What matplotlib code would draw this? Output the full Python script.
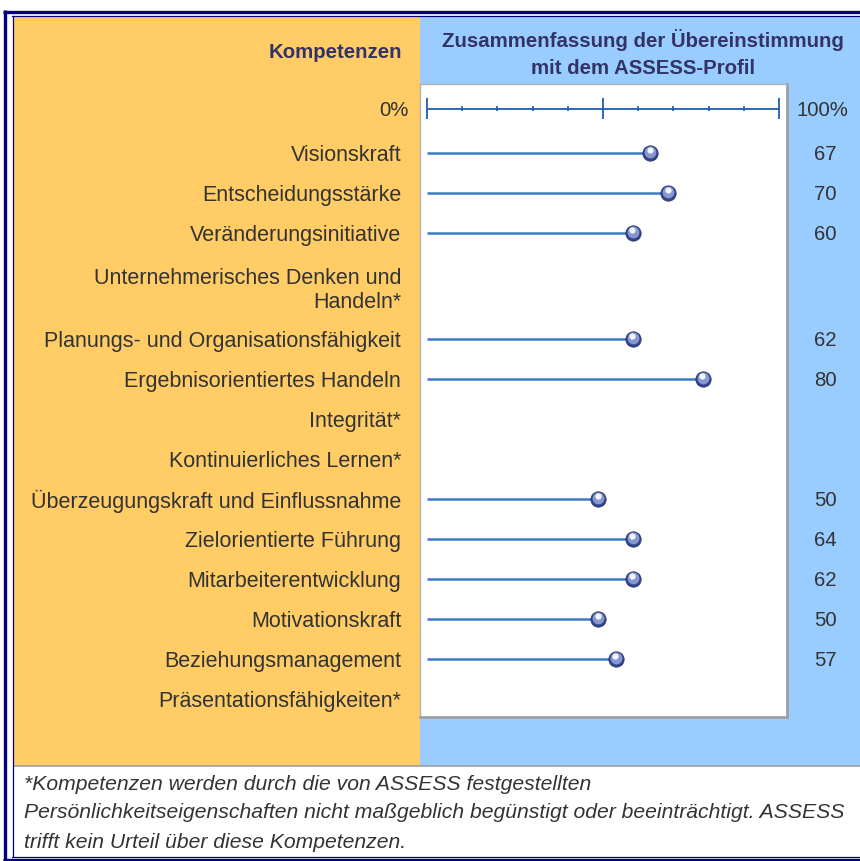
import matplotlib.pyplot as plt
import numpy as np
from matplotlib.transforms import offset_copy

plt.rcParams['font.family'] = ['Liberation Sans', 'DejaVu Sans']

# Kompetenzen, Werte (Text rechts) und die gezeichnete Position der Kugel
labels = ['Visionskraft', 'Entscheidungsstärke', 'Veränderungsinitiative',
          'Unternehmerisches Denken und\nHandeln*',
          'Planungs- und Organisationsfähigkeit', 'Ergebnisorientiertes Handeln',
          'Integrität*', 'Kontinuierliches Lernen*',
          'Überzeugungskraft und Einflussnahme', 'Zielorientierte Führung',
          'Mitarbeiterentwicklung', 'Motivationskraft', 'Beziehungsmanagement',
          'Präsentationsfähigkeiten*']
scores = [67, 70, 60, None, 62, 80, None, None, 50, 64, 62, 50, 57, None]
marker_pos = [63.4, 68.5, 58.5, None, 58.5, 78.4, None, None,
              48.6, 58.5, 58.5, 48.6, 53.7, None]

footnote = ['*Kompetenzen werden durch die von ASSESS festgestellten',
            'Persönlichkeitseigenschaften nicht maßgeblich begünstigt oder beeinträchtigt. ASSESS',
            'trifft kein Urteil über diese Kompetenzen.']

ORANGE = '#FFCC66'
BLUE = '#99CCFF'
NAVY = '#000080'
HEAD = '#333366'
TXT = '#333333'

# Zeilenpositionen (zweizeilige Labels brauchen mehr Platz)
heights = [1.0 if '\n' not in l else 1.65 for l in labels]
row_y = [1.0]
for i in range(1, len(labels)):
    row_y.append(row_y[-1] + (heights[i - 1] + heights[i]) / 2)
axis_y = -0.11

fig = plt.figure(figsize=(8.6, 8.61), dpi=100)

# Hintergrund / Rahmen in Pixelkoordinaten
bg = fig.add_axes([0, 0, 1, 1])
bg.set_xlim(0, 860)
bg.set_ylim(861, 0)
bg.axis('off')
bg.add_patch(plt.Rectangle((14, 17), 406, 749, color=ORANGE, lw=0))
bg.add_patch(plt.Rectangle((420, 17), 440, 749, color=BLUE, lw=0))
bg.plot([14, 860], [766, 766], color='#a0a0a0', lw=1.2)
bg.plot([3, 860], [11.5, 11.5], color=NAVY, lw=2.4, solid_capstyle='butt')
bg.plot([12, 860], [16.2, 16.2], color=NAVY, lw=0.9)
bg.plot([5, 5], [10, 861], color=NAVY, lw=2.4, solid_capstyle='butt')
bg.plot([12.5, 12.5], [16, 856.5], color=NAVY, lw=0.9)
bg.plot([12, 860], [856.5, 856.5], color=NAVY, lw=0.9)
bg.plot([3, 860], [859.8, 859.8], color=NAVY, lw=2.4, solid_capstyle='butt')

bg.text(402, 53, 'Kompetenzen', ha='right', va='center', fontsize=14.7,
        fontweight='bold', color=HEAD)
bg.text(643, 40, 'Zusammenfassung der Übereinstimmung', ha='center', va='center',
        fontsize=14.7, fontweight='bold', color=HEAD)
bg.text(643, 68, 'mit dem ASSESS-Profil', ha='center', va='center',
        fontsize=14.7, fontweight='bold', color=HEAD)
for k, line in enumerate(footnote):
    bg.text(24, 784 + 29 * k, line, ha='left', va='center', fontsize=15.2,
            style='italic', color=TXT)

# Diagrammfläche
ax = fig.add_axes([420 / 860, 1 - 717 / 861, 367 / 860, 633 / 861])
ax.set_facecolor('white')
ax.set_xlim(-1.99, 102.27)
ax.set_ylim(15.1, -0.725)
for s in ['left', 'top']:
    ax.spines[s].set_color('#b0b0b0')
    ax.spines[s].set_linewidth(1.0)
for s in ['right', 'bottom']:
    ax.spines[s].set_color('#a0a0a0')
    ax.spines[s].set_linewidth(2.0)
ax.set_xticks([])
ax.set_yticks(row_y)
ax.set_yticklabels(labels, fontsize=15.5, color=TXT)
ax.tick_params(axis='y', length=0, pad=13.5)

# Skala 0..100
ax.hlines(axis_y, 0, 100, color='#1f5fa6', lw=1.3)
minor = [t for t in np.arange(10, 100, 10) if t != 50]
ax.vlines(minor, axis_y - 0.07, axis_y + 0.07, color='#1f5fa6', lw=1.2)
ax.vlines([0, 50, 100], axis_y - 0.27, axis_y + 0.27, color='#1f5fa6', lw=1.3)
ax.text(-5.1, axis_y, '0%', ha='right', va='center_baseline', fontsize=14.7,
        color=TXT, clip_on=False)
ax.text(112.2, axis_y, '100%', ha='center', va='center_baseline', fontsize=14.7,
        color=TXT, clip_on=False)

# Lollipops
hl = offset_copy(ax.transData, fig=fig, x=-0.2, y=0.9, units='points')
hl2 = offset_copy(ax.transData, fig=fig, x=-0.4, y=2.0, units='points')
for y, v, p in zip(row_y, scores, marker_pos):
    if v is None:
        continue
    ax.hlines(y, 0, p, color='#3d7cc4', lw=1.8, zorder=2)
    ax.plot(p, y, 'o', ms=11, color='#34448a', mec='#2a3878', mew=0.6, zorder=3)
    ax.plot(p, y, 'o', ms=8.5, color='#8798d0', mew=0, zorder=4, transform=hl)
    ax.plot(p, y, 'o', ms=4.5, color='#f2f5ff', mew=0, zorder=5, transform=hl2)
    ax.text(113.1, y, str(v), ha='center', va='center_baseline', fontsize=14.7,
            color=TXT, clip_on=False)

plt.savefig('out.png', dpi=100)
